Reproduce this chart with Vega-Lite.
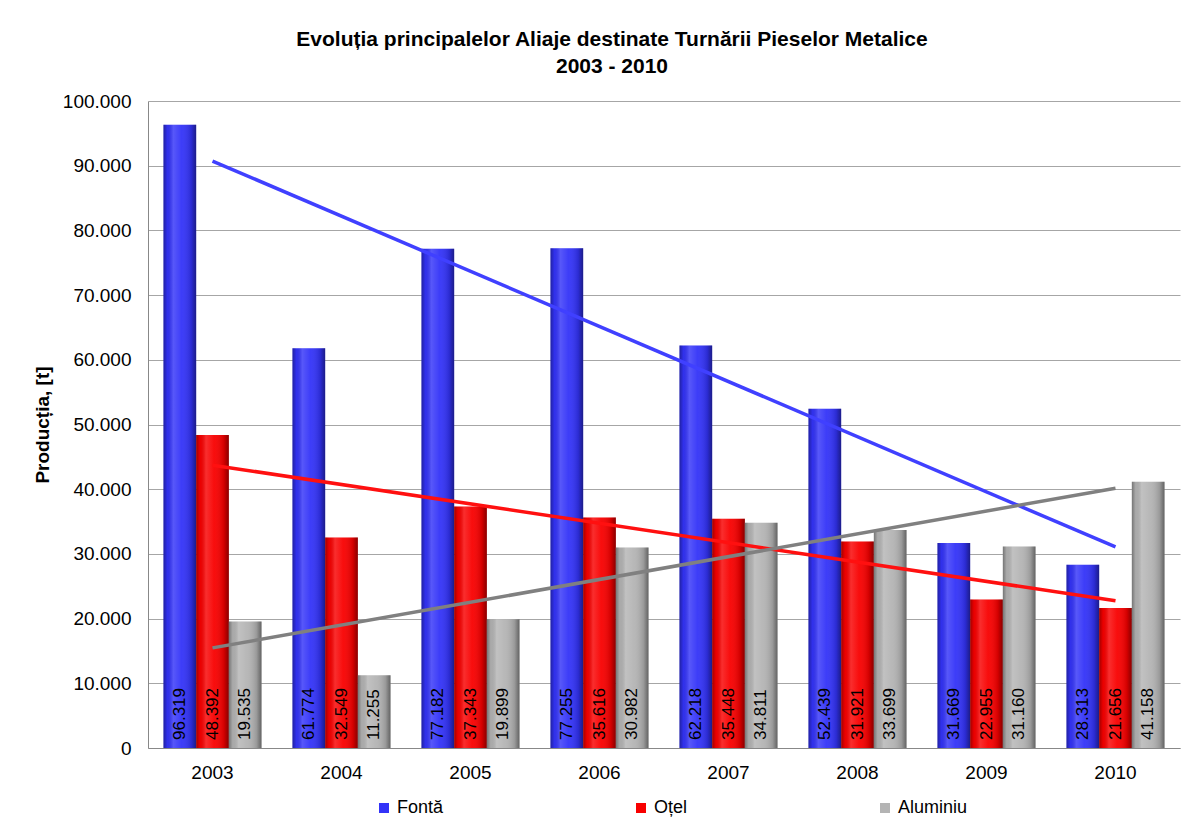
{
  "$schema": "https://vega.github.io/schema/vega-lite/v6.json",
  "autosize": "none",
  "width": 1032,
  "height": 647,
  "padding": {"left": 148, "top": 101, "right": 23, "bottom": 86},
  "background": "white",
  "config": {
    "font": "Liberation Sans",
    "locale": {"number": {"decimal": ",", "thousands": ".", "grouping": [3], "currency": ["", ""]}},
    "view": {"stroke": null},
    "axis": {"labelFont": "Liberation Sans", "labelFontSize": 19, "labelColor": "#000", "titleFont": "Liberation Sans", "titleColor": "#000"}
  },
  "title": {
    "text": ["Evoluția principalelor Aliaje destinate Turnării Pieselor Metalice", "2003 - 2010"],
    "fontSize": 21,
    "fontWeight": "bold",
    "color": "#000",
    "lineHeight": 27,
    "offset": 15,
    "dx": -52,
    "anchor": "middle"
  },
  "data": {
    "values": [
      {"year": 2003, "series": "Fontă", "value": 96319},
      {"year": 2003, "series": "Oțel", "value": 48392},
      {"year": 2003, "series": "Aluminiu", "value": 19535},
      {"year": 2004, "series": "Fontă", "value": 61774},
      {"year": 2004, "series": "Oțel", "value": 32549},
      {"year": 2004, "series": "Aluminiu", "value": 11255},
      {"year": 2005, "series": "Fontă", "value": 77182},
      {"year": 2005, "series": "Oțel", "value": 37343},
      {"year": 2005, "series": "Aluminiu", "value": 19899},
      {"year": 2006, "series": "Fontă", "value": 77255},
      {"year": 2006, "series": "Oțel", "value": 35616},
      {"year": 2006, "series": "Aluminiu", "value": 30982},
      {"year": 2007, "series": "Fontă", "value": 62218},
      {"year": 2007, "series": "Oțel", "value": 35448},
      {"year": 2007, "series": "Aluminiu", "value": 34811},
      {"year": 2008, "series": "Fontă", "value": 52439},
      {"year": 2008, "series": "Oțel", "value": 31921},
      {"year": 2008, "series": "Aluminiu", "value": 33699},
      {"year": 2009, "series": "Fontă", "value": 31669},
      {"year": 2009, "series": "Oțel", "value": 22955},
      {"year": 2009, "series": "Aluminiu", "value": 31160},
      {"year": 2010, "series": "Fontă", "value": 28313},
      {"year": 2010, "series": "Oțel", "value": 21656},
      {"year": 2010, "series": "Aluminiu", "value": 41158}
    ]
  },
  "encoding": {
    "x": {
      "field": "year", "type": "ordinal",
      "scale": {"paddingInner": 0.24, "paddingOuter": 0.12},
      "axis": {"title": null, "labelAngle": 0, "ticks": false, "labelPadding": 15, "domainColor": "#888", "grid": false}
    },
    "y": {
      "field": "value", "type": "quantitative",
      "scale": {"domain": [0, 100000], "nice": false},
      "axis": {"title": "Producția, [t]", "titleFontSize": 19, "titleFontWeight": "bold", "titlePadding": 10, "format": ",d", "values": [0, 10000, 20000, 30000, 40000, 50000, 60000, 70000, 80000, 90000, 100000], "ticks": false, "labelPadding": 17, "domainColor": "#888", "gridColor": "#a6a6a6", "gridWidth": 1}
    }
  },
  "layer": [
    {
      "mark": {"type": "bar", "strokeWidth": 0},
      "encoding": {
        "xOffset": {"field": "series", "type": "nominal", "sort": ["Fontă", "Oțel", "Aluminiu"], "scale": {"paddingInner": 0, "paddingOuter": 0}},
        "color": {
          "field": "series", "type": "nominal",
          "scale": {"domain": ["Fontă", "Oțel", "Aluminiu"], "range": ["#3333f8", "#f80000", "#b4b4b4"]},
          "legend": {"title": null, "orient": "none", "legendX": 227, "legendY": 698, "direction": "horizontal", "symbolType": "square", "symbolSize": 100, "symbolStrokeWidth": 0, "labelFontSize": 18, "labelColor": "#000", "labelFont": "Liberation Sans", "columnPadding": 188, "labelOffset": 4}
        }
      }
    },
    {
      "mark": {
        "type": "bar",
        "strokeWidth": 0,
        "color": {"gradient": "linear", "x1": 0, "x2": 1, "y1": 0, "y2": 0,
          "stops": [
            {"offset": 0, "color": "rgba(0,0,0,0.35)"},
            {"offset": 0.12, "color": "rgba(0,0,0,0.05)"},
            {"offset": 0.3, "color": "rgba(255,255,255,0.18)"},
            {"offset": 0.55, "color": "rgba(255,255,255,0.05)"},
            {"offset": 0.85, "color": "rgba(0,0,0,0.15)"},
            {"offset": 1, "color": "rgba(0,0,0,0.45)"}
          ]}
      },
      "encoding": {
        "xOffset": {"field": "series", "type": "nominal", "sort": ["Fontă", "Oțel", "Aluminiu"]}
      }
    },
    {
      "transform": [{"regression": "value", "on": "year", "groupby": ["series"]}],
      "mark": {"type": "line", "strokeWidth": 3.5},
      "encoding": {
        "stroke": {"field": "series", "type": "nominal", "scale": {"domain": ["Fontă", "Oțel", "Aluminiu"], "range": ["#4040ff", "#ff1010", "#808080"]}, "legend": null}
      }
    },
    {
      "mark": {"type": "text", "angle": -90, "align": "left", "baseline": "middle", "dx": 8, "fontSize": 17, "color": "#000"},
      "encoding": {
        "xOffset": {"field": "series", "type": "nominal", "sort": ["Fontă", "Oțel", "Aluminiu"]},
        "y": {"datum": 0},
        "text": {"field": "value", "type": "quantitative", "format": ",d"}
      }
    }
  ]
}
